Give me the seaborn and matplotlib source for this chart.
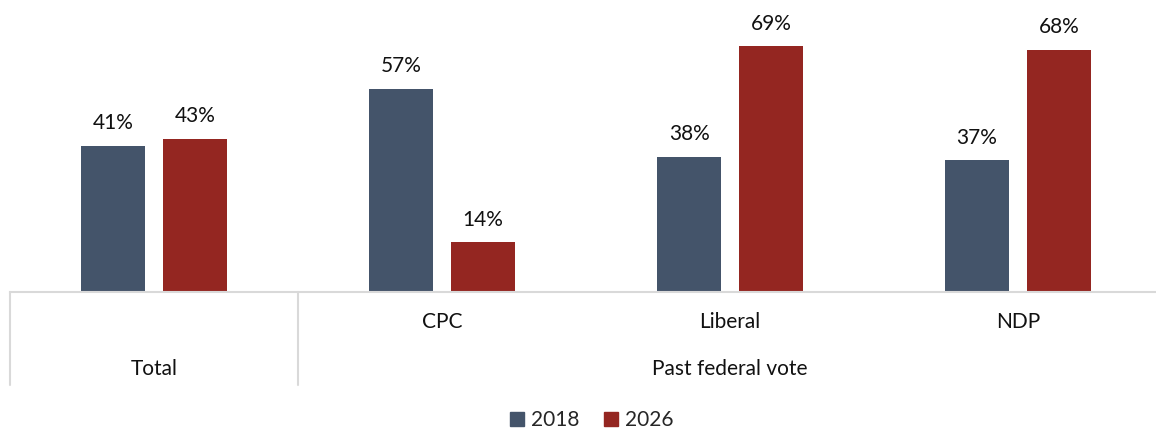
import matplotlib
matplotlib.use("Agg")
import matplotlib.pyplot as plt
import seaborn as sns
import pandas as pd
from matplotlib.lines import Line2D

categories = ["Total", "CPC", "Liberal", "NDP"]
years = ["2018", "2026"]
values_2018 = [41, 57, 38, 37]
values_2026 = [43, 14, 69, 68]
groups = ["", "Past federal vote"]

sns.set_theme(style="white")
plt.rcParams['font.family'] = ['Lato', 'DejaVu Sans']

df = pd.DataFrame({
    "cat": categories * 2,
    "year": [years[0]] * 4 + [years[1]] * 4,
    "val": values_2018 + values_2026,
})

colors = {"2018": "#44546A", "2026": "#942621"}
W, H = 1156, 432
FS = 15
fig = plt.figure(figsize=(W / 100, H / 100), dpi=100)
ax = fig.add_axes([10 / W, (H - 292) / H, (W - 10) / W, 292 / H])

sns.barplot(data=df, x="cat", y="val", hue="year", order=categories,
            hue_order=years, palette=colors, width=0.569, gap=0.22,
            ax=ax, legend=False, saturation=1, linewidth=0)

for c in ax.containers:
    ax.bar_label(c, labels=[f"{v:.0f}%" for v in c.datavalues], padding=9,
                 fontsize=FS, color="#111111")

ax.set_ylim(0, 292 / 3.565)
ax.set_xlim(-0.5, (W - 154) / 288)
ax.set_xlabel("")
ax.set_ylabel("")
ax.set_xticks([])
ax.set_yticks([])
for s in ["top", "right", "left"]:
    ax.spines[s].set_visible(False)
ax.spines["bottom"].set_color("#D9D9D9")
ax.spines["bottom"].set_linewidth(1.5)

trans = ax.get_xaxis_transform()
bottom = (292 - 385) / 292
for xv in [-0.5, 0.5]:
    ax.plot([xv, xv], [0, bottom], transform=trans, color="#D9D9D9",
            lw=1.5, clip_on=False)

y1 = (292 - 322) / 292
y2 = (292 - 369) / 292
for i, c in enumerate(categories[1:], start=1):
    ax.text(i, y1, c, transform=trans, ha="center", va="center", fontsize=FS,
            color="#111111")
ax.text(0, y2, "Total", transform=trans, ha="center", va="center",
        fontsize=FS, color="#111111")
ax.text(2, y2, "Past federal vote", transform=trans, ha="center", va="center",
        fontsize=FS, color="#111111")

handles = [Line2D([], [], marker="s", linestyle="", markersize=10,
                  markerfacecolor=colors[y], markeredgecolor=colors[y])
           for y in years]
fig.legend(handles, years, loc="center", bbox_to_anchor=(590 / W, 1 - 420 / H),
           ncol=2, frameon=False, fontsize=FS, handletextpad=0.2,
           columnspacing=1.0, handlelength=1.0)

fig.savefig("out.png", dpi=100)
